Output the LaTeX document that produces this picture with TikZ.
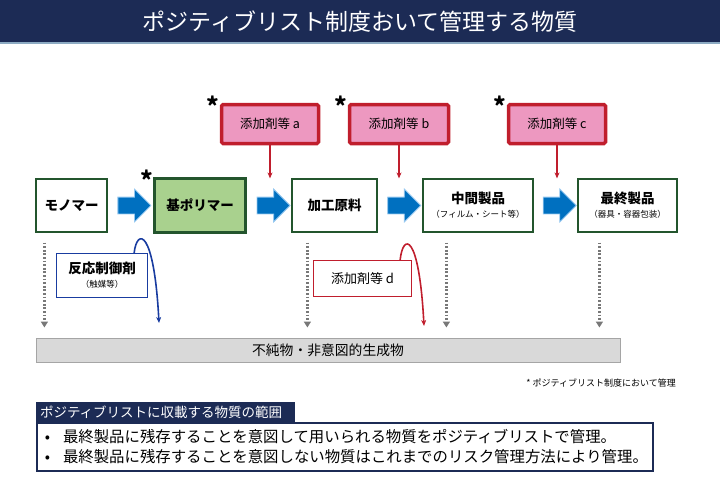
\documentclass[tikz,border=0pt]{standalone}
\usepackage{fontspec}
\setmainfont{Noto Sans CJK JP}
\usetikzlibrary{arrows.meta,calc,shapes.arrows}
\definecolor{titlenavy}{RGB}{28,43,85}
\definecolor{boxgreen}{RGB}{35,85,45}
\definecolor{basefill}{RGB}{169,209,142}
\definecolor{addred}{RGB}{192,30,45}
\definecolor{addpink}{RGB}{237,152,192}
\definecolor{arrowblue}{RGB}{0,112,192}
\definecolor{arrowedge}{RGB}{150,200,240}
\definecolor{ctrlblue}{RGB}{25,60,160}
\definecolor{dotgray}{RGB}{120,120,120}
\definecolor{barfill}{RGB}{217,217,217}
\definecolor{barline}{RGB}{165,165,165}
\newcommand\subfont{\fontsize{8.5}{10}\selectfont\mdseries}

\begin{document}
\begin{tikzpicture}[x=1pt,y=-1pt,>=Stealth,
  titlebar/.style={fill=titlenavy,text=white,minimum width=720pt,minimum height=43pt,inner sep=0pt,font=\fontsize{23}{26}\selectfont},
  mainbox/.style={draw=boxgreen,line width=1.2pt,fill=white,minimum height=53pt,inner sep=2pt,align=center,font=\fontsize{13.5}{15}\selectfont\bfseries},
  basebox/.style={mainbox,line width=3.5pt,fill=basefill,minimum width=91pt,minimum height=54pt},
  addbox/.style={draw=addred,line width=3.5pt,fill=addpink,rounded corners=1.5pt,minimum width=97pt,minimum height=39pt,font=\fontsize{12.5}{14}\selectfont},
  star/.style={inner sep=0pt,font=\fontsize{24}{24}\selectfont\bfseries},
  blockarrow/.style={shape=single arrow,fill=arrowblue,draw=arrowedge,line width=0.8pt,inner xsep=0pt,inner ysep=8pt,minimum height=33pt,minimum width=32pt,single arrow head extend=8pt},
  addarrow/.style={addred,line width=1.2pt,-{Stealth[length=6pt,width=5pt]}},
  ctrlbox/.style={draw=ctrlblue,line width=1.3pt,fill=white,minimum width=91pt,minimum height=44pt,align=center,font=\fontsize{13.5}{16}\selectfont\bfseries},
  dbox/.style={draw=addred,line width=1.3pt,fill=white,minimum width=98pt,minimum height=36pt,font=\fontsize{13}{15}\selectfont},
  ctrlcurve/.style={ctrlblue,line width=1.6pt,-{Stealth[length=6pt,width=5pt]}},
  dcurve/.style={addred,line width=1.6pt,-{Stealth[length=6pt,width=5pt]}},
  dotarrow/.style={dotgray,line width=2.2pt,dash pattern=on 1.8pt off 1.8pt,shorten <=10pt,shorten >=10pt,-{Triangle[length=6pt,width=7pt]}},
  impbar/.style={draw=barline,line width=1pt,fill=barfill,minimum width=584pt,minimum height=24pt,font=\fontsize{13.8}{15}\selectfont},
  note/.style={inner sep=0pt,font=\fontsize{9}{10}\selectfont},
  headbox/.style={fill=titlenavy,text=white,minimum width=259pt,minimum height=20pt,inner sep=0pt,text width=251pt,font=\fontsize{13.5}{15}\selectfont},
  listbox/.style={draw=titlenavy,line width=2pt,fill=white,text width=600pt,inner xsep=8pt,inner ysep=6.5pt,align=left,font=\fontsize{15.4}{20}\selectfont}]
\useasboundingbox (0,0) rectangle (720,496);

% title
\node[titlebar] (title) at (360,21.5) {ポジティブリスト制度おいて管理する物質};
\draw[arrowedge!60!gray,line width=1.5pt] (title.south west) -- (title.south east);

% process chain
\node[mainbox,minimum width=71pt] (mono) at (71.5,205.5) {モノマー};
\node[basebox] (base) at (200,205.5) {基ポリマー};
\node[mainbox,minimum width=85pt] (proc) at (334.5,205.5) {加工原料};
\node[mainbox,minimum width=110pt] (inter) at (478,205.5) {中間製品\\[-1pt]{\subfont （フィルム・シート等）}};
\node[mainbox,minimum width=99pt] (final) at (627.5,205.5) {最終製品\\[-1pt]{\subfont （器具・容器包装）}};

\node[blockarrow] (ar1) at ($(mono.east)!0.5!(base.west)$) {};
\node[blockarrow] (ar2) at ($(base.east)!0.5!(proc.west)$) {};
\node[blockarrow] (ar3) at ($(proc.east)!0.5!(inter.west)$) {};
\node[blockarrow] (ar4) at ($(inter.east)!0.5!(final.west)$) {};

% additives
\node[addbox] (adda) at (270,124) {添加剤等 a};
\node[addbox,minimum width=99pt] (addb) at (399,124) {添加剤等 b};
\node[addbox] (addc) at (557,124) {添加剤等 c};
\draw[addarrow] (adda) -- (adda.south |- proc.north);
\draw[addarrow] (addb) -- (addb.south |- proc.north);
\draw[addarrow] (addc) -- (addc.south |- proc.north);

\node[star] (stara) at ([shift={(-7,3)}]adda.north west) {*};
\node[star] (starb) at ([shift={(-7,3)}]addb.north west) {*};
\node[star] (starc) at ([shift={(-7,3)}]addc.north west) {*};
\node[star] (starbase) at ([shift={(-6,3)}]base.north west) {*};

% side inputs
\node[ctrlbox] (ctrl) at (102,275.5) {反応制御剤\\[-2pt]{\subfont （触媒等）}};
\coordinate (ctrlend) at (159,323);
\draw[ctrlcurve] ([xshift=-14pt]ctrl.north east) .. controls (137,228) and (154,228) .. (ctrlend);

\node[dbox] (addd) at (362.5,278.5) {添加剤等 d};
\coordinate (addend) at (424,326);
\draw[dcurve] ([xshift=-12pt]addd.north east) .. controls (403,233) and (419,232) .. (addend);

% impurities
\node[impbar] (imp) at (328,350) {不純物・非意図的生成物};
\coordinate (d1) at ([xshift=9pt]mono.south west);
\coordinate (d2) at ([xshift=16pt]proc.south west);
\coordinate (d3) at ([xshift=24pt]inter.south west);
\coordinate (d4) at ([xshift=22pt]final.south west);
\draw[dotarrow] (d1) -- (d1 |- imp.north);
\draw[dotarrow] (d2) -- (d2 |- imp.north);
\draw[dotarrow] (d3) -- (d3 |- imp.north);
\draw[dotarrow] (d4) -- (d4 |- imp.north);

\node[note,anchor=east] (fn) at (676,383) {* ポジティブリスト制度において管理};

% scope of the list
\node[headbox] (head) at (165.5,412) {ポジティブリストに収載する物質の範囲};
\node[listbox,anchor=north west] (list) at (head.south west) {•\hspace{13pt}最終製品に残存することを意図して用いられる物質をポジティブリストで管理。\\
•\hspace{13pt}最終製品に残存することを意図しない物質はこれまでのリスク管理方法により管理。};
\end{tikzpicture}
\end{document}
